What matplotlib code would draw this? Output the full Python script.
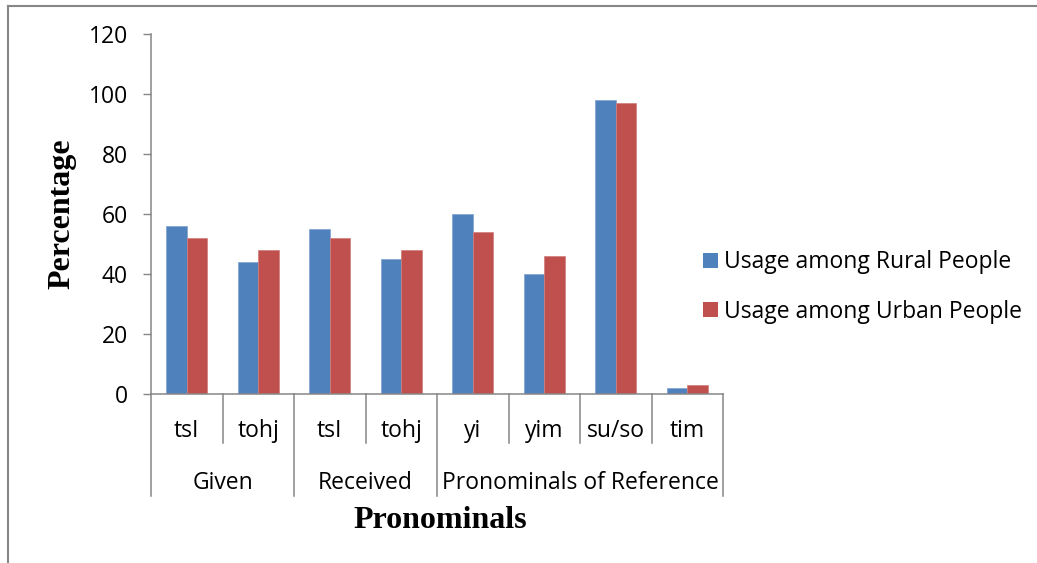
import numpy as np
import matplotlib
matplotlib.use("Agg")
import matplotlib.pyplot as plt
from matplotlib.lines import Line2D
from matplotlib.patches import Patch

# Pronominal usage data
sub_labels = ["tsI", "tohj", "tsI", "tohj", "yi", "yim", "su/so", "tim"]
groups = ["Given", "Received", "Pronominals of Reference"]
group_spans = [(0, 2), (2, 4), (4, 8)]
rural = [56, 44, 55, 45, 60, 40, 98, 2]
urban = [52, 48, 52, 48, 54, 46, 97, 3]
series_names = ["Usage among Rural People", "Usage among Urban People"]
yticks = [0, 20, 40, 60, 80, 100, 120]

BLUE = "#4F81BD"
RED = "#C0504D"
GREY = "#868686"
SANS = "Open Sans"
SERIF = "Liberation Serif"
FS = 16.5

W, H = 1037, 563
fig = plt.figure(figsize=(W / 100, H / 100), dpi=100)
ax = fig.add_axes([151 / W, 1 - 394 / H, (723 - 151) / W, (394 - 34) / H])

n = len(sub_labels)
x = np.arange(n) + 0.5
bw = 1 / 3.5
ax.bar(x - bw / 2, rural, bw, color=BLUE, edgecolor="#7FA2CF", linewidth=0.5)
ax.bar(x + bw / 2, urban, bw, color=RED, edgecolor="#D27C79", linewidth=0.5)

ax.set_xlim(0, n)
ax.set_ylim(0, 120)
ax.set_yticks(yticks)
ax.tick_params(axis="y", direction="out", length=5.5, width=1, color=GREY,
               pad=11, labelsize=FS)
for lbl in ax.get_yticklabels():
    lbl.set_fontfamily(SANS)
ax.set_xticks([])
for s in ("top", "right"):
    ax.spines[s].set_visible(False)
for s in ("left", "bottom"):
    ax.spines[s].set_color(GREY)
    ax.spines[s].set_linewidth(1.1)

trans = ax.get_xaxis_transform()
inner_len = 49 / 360
outer_len = 102 / 360
group_edges = {0, 2, 4, 8}
for k in range(n + 1):
    y_end = -outer_len if k in group_edges else -inner_len
    ax.add_line(Line2D([k, k], [0, y_end], transform=trans, color=GREY,
                       linewidth=1.1, clip_on=False))
for xi, lab in zip(x, sub_labels):
    ax.text(xi, -37 / 360, lab, transform=trans, ha="center", va="center",
            fontsize=FS, family=SANS)
for name, (a, b) in zip(groups, group_spans):
    ax.text((a + b) / 2, -89 / 360, name, transform=trans, ha="center",
            va="center", fontsize=FS, family=SANS)

# Axis titles
fig.text(62 / W, 1 - 214 / H, "Percentage", rotation=90, ha="center",
         va="center", fontsize=23, fontweight="bold", family=SERIF)
fig.text(440 / W, 1 - 521 / H, "Pronominals", ha="center", va="center",
         fontsize=23, fontweight="bold", family=SERIF)

# Legend
handles = [Patch(facecolor=BLUE), Patch(facecolor=RED)]
leg = fig.legend(handles, series_names, loc="center left",
                 bbox_to_anchor=(682 / W, 1 - 287 / H), frameon=False,
                 prop={"family": SANS, "size": FS}, handlelength=0.65,
                 handleheight=0.65, handletextpad=0.3, labelspacing=1.1)

# Outer chart frame
fig.add_artist(Line2D([8 / W, 1], [1 - 6 / H, 1 - 6 / H], transform=fig.transFigure,
                      color=GREY, linewidth=1.5))
fig.add_artist(Line2D([8 / W, 8 / W], [0, 1 - 6 / H], transform=fig.transFigure,
                      color=GREY, linewidth=1.5))

fig.savefig("out.png", dpi=100)
